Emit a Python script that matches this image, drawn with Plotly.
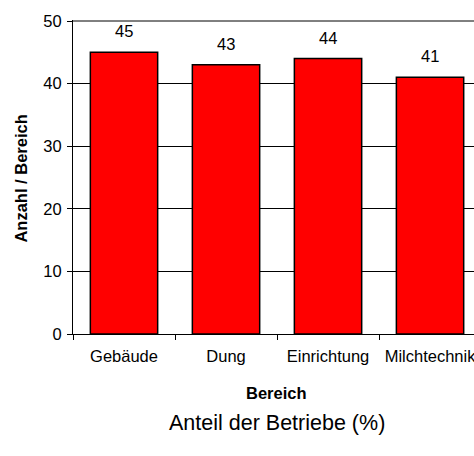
import plotly.graph_objects as go

# Data
bereiche = ["Gebäude", "Dung", "Einrichtung", "Milchtechnik"]
anzahl = [45, 43, 44, 41]
y_ticks = [0, 10, 20, 30, 40, 50]

FONT = "Liberation Sans, Arial, sans-serif"

fig = go.Figure()
fig.add_trace(go.Bar(
    x=bereiche,
    y=anzahl,
    marker=dict(color="#FF0000", line=dict(color="#000000", width=1.5)),
    width=0.66,
    hoverinfo="skip",
))

# Value labels above each bar
for cat, v in zip(bereiche, anzahl):
    fig.add_annotation(
        x=cat, y=v, xref="x", yref="y", text=str(v), showarrow=False,
        yanchor="middle", yshift=21,
        font=dict(family=FONT, size=16.5, color="#000000"),
    )

# Axis titles and caption
fig.add_annotation(
    x=0.5087, y=-0.1875, xref="paper", yref="paper", text="<b>Bereich</b>",
    showarrow=False, xanchor="center", yanchor="middle",
    font=dict(family=FONT, size=16.5, color="#000000"),
)
fig.add_annotation(
    x=-0.1297, y=0.495, xref="paper", yref="paper", text="<b>Anzahl / Bereich</b>",
    showarrow=False, xanchor="center", yanchor="middle", textangle=-90,
    font=dict(family=FONT, size=16.5, color="#000000"),
)
fig.add_annotation(
    x=0.5087, y=-0.283, xref="paper", yref="paper", text="Anteil der Betriebe (%)",
    showarrow=False, xanchor="center", yanchor="middle",
    font=dict(family=FONT, size=21.5, color="#000000"),
)

# gridline at the top tick value
fig.add_shape(type="line", xref="paper", yref="y", x0=0, x1=1,
              y0=max(y_ticks), y1=max(y_ticks),
              line=dict(color="#000000", width=1), layer="below")

fig.update_layout(
    width=474, height=456,
    margin=dict(l=73, r=0, t=20, b=122, autoexpand=False),
    paper_bgcolor="white", plot_bgcolor="white",
    showlegend=False,
    font=dict(family=FONT, size=16.5, color="#000000"),
    xaxis=dict(
        type="category",
        range=[-0.5, 3.431],
        tickson="boundaries",
        ticks="outside", ticklen=5, tickcolor="#000000", tickwidth=1,
        showline=True, linecolor="#000000", linewidth=1,
        showgrid=False, zeroline=False,
        automargin=False, fixedrange=True,
        ticklabeloverflow="allow", ticklabelstandoff=7,
    ),
    yaxis=dict(
        range=[0, 50.16], tickmode="array", tickvals=y_ticks,
        ticks="outside", ticklen=5, tickcolor="#000000", tickwidth=1,
        showline=True, linecolor="#000000", linewidth=1,
        showgrid=True, gridcolor="#000000", gridwidth=1,
        zeroline=False, automargin=False, fixedrange=True,
        ticklabelstandoff=2,
    ),
)

fig.write_html("out.html")
